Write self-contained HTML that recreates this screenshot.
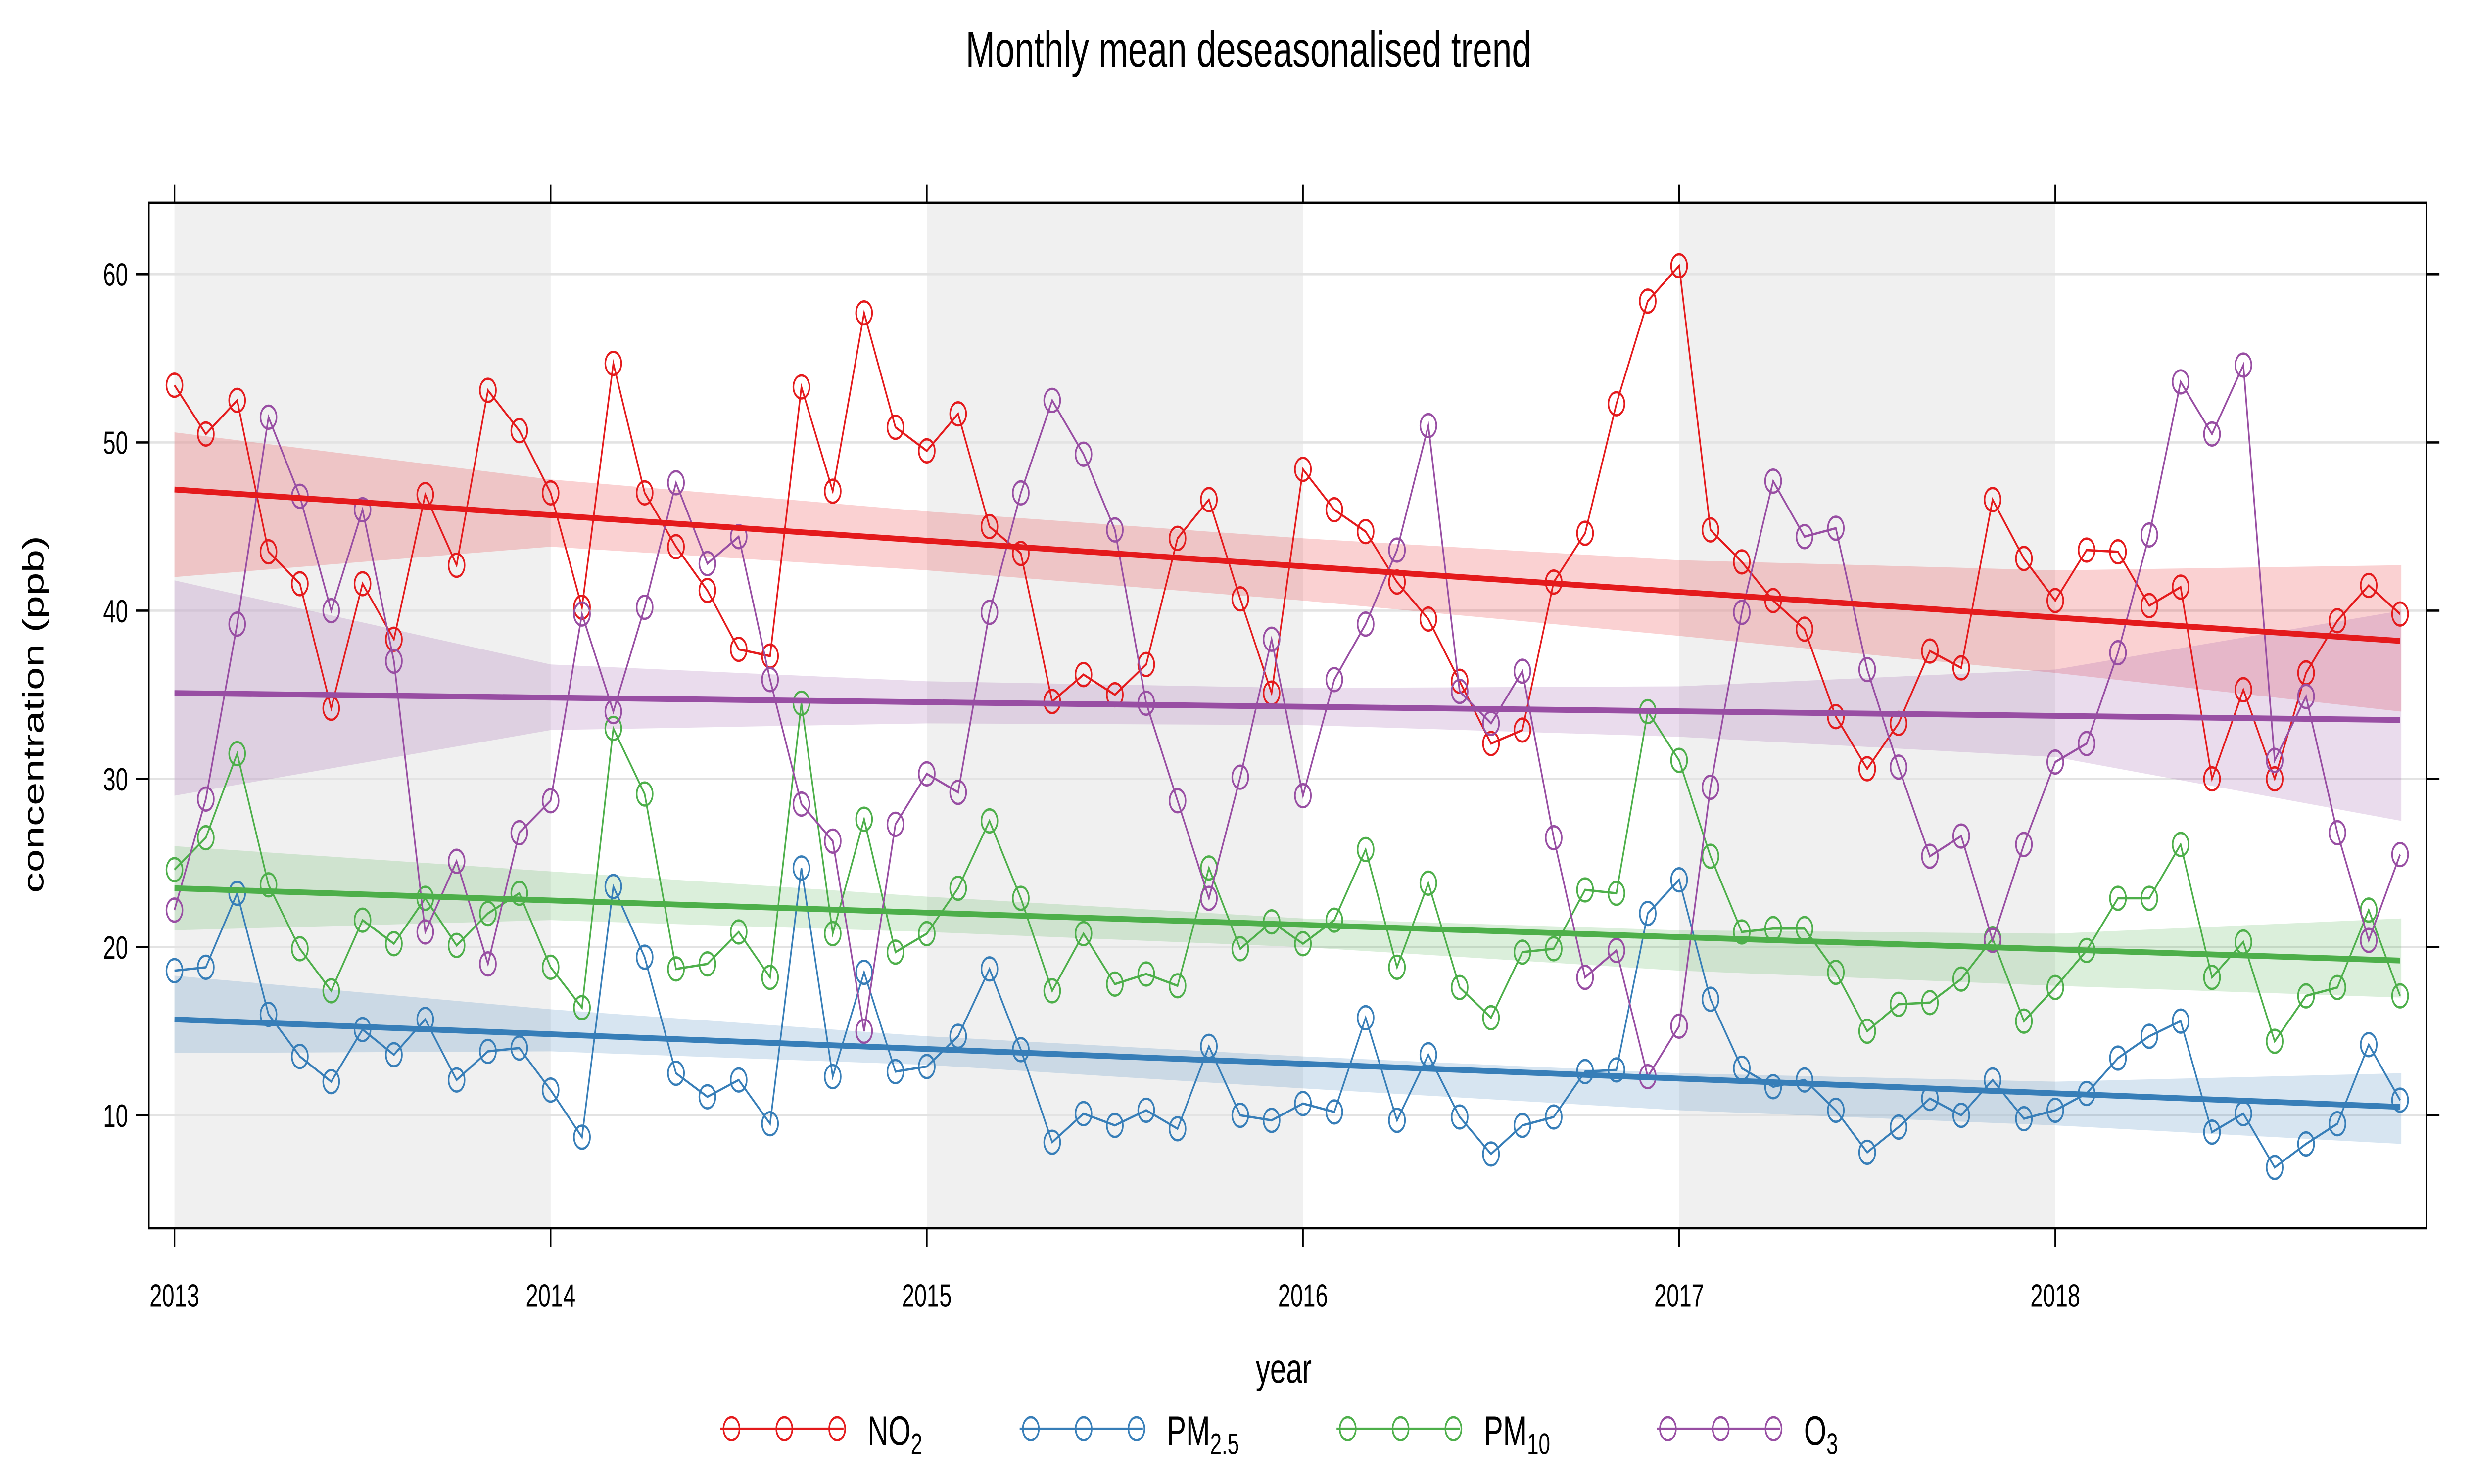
<!DOCTYPE html>
<html><head><meta charset="utf-8"><style>
html,body{margin:0;padding:0;background:#fff;width:100%;height:100%;overflow:hidden}
svg{display:block;width:100vw;height:100vh}
text{font-family:"Liberation Sans",Arial,sans-serif;fill:#000}
</style></head><body>
<svg id="chart" viewBox="0 0 1545.6 644" preserveAspectRatio="none" xmlns="http://www.w3.org/2000/svg">
<text x="780" y="29" text-anchor="middle" font-size="22">Monthly mean deseasonalised trend</text>
<g id="stripes"></g>
<g id="grid"></g>
<g id="bands"></g>
<g id="series"></g>
<g id="trends"></g>
<rect x="93" y="88" width="1423" height="445" fill="none" stroke="#000" stroke-width="1"/>
<g id="axes"></g>
<text transform="translate(27,310) rotate(-90)" text-anchor="middle" font-size="18">concentration (ppb)</text>
<text x="802" y="600" text-anchor="middle" font-size="18">year</text>
<g id="legend"></g>
</svg>
<script>
const months = 72;
const no2 = [53.4,50.5,52.5,43.5,41.6,34.2,41.6,38.3,46.9,42.7,53.1,50.7,47.0,40.2,54.7,47.0,43.8,41.2,37.7,37.3,53.3,47.1,57.7,50.9,49.5,51.7,45.0,43.4,34.6,36.2,35.0,36.8,44.3,46.6,40.7,35.1,48.4,46.0,44.7,41.7,39.5,35.8,32.1,32.9,41.7,44.6,52.3,58.4,60.5,44.8,42.9,40.6,38.9,33.7,30.6,33.3,37.6,36.6,46.6,43.1,40.6,43.6,43.5,40.3,41.4,30.0,35.3,30.0,36.3,39.4,41.5,39.8];
const pm25 = [18.6,18.8,23.2,16.0,13.5,12.0,15.1,13.6,15.7,12.1,13.8,14.0,11.5,8.7,23.6,19.4,12.5,11.1,12.1,9.5,24.7,12.3,18.5,12.6,12.9,14.7,18.7,13.9,8.4,10.1,9.4,10.3,9.2,14.1,10.0,9.7,10.7,10.2,15.8,9.7,13.6,9.9,7.7,9.4,9.9,12.6,12.7,22.0,24.0,16.9,12.8,11.7,12.1,10.3,7.8,9.3,11.0,10.0,12.1,9.8,10.3,11.3,13.4,14.7,15.6,9.0,10.1,6.9,8.3,9.5,14.2,10.9];
const pm10 = [24.6,26.5,31.5,23.7,19.9,17.4,21.6,20.2,22.9,20.1,22.0,23.2,18.8,16.4,33.0,29.1,18.7,19.0,20.9,18.2,34.5,20.8,27.6,19.7,20.8,23.5,27.5,22.9,17.4,20.8,17.8,18.4,17.7,24.7,19.9,21.5,20.2,21.6,25.8,18.8,23.8,17.6,15.8,19.7,19.9,23.4,23.2,34.0,31.1,25.4,20.9,21.1,21.1,18.5,15.0,16.6,16.7,18.1,20.5,15.6,17.6,19.8,22.9,22.9,26.1,18.2,20.3,14.4,17.1,17.6,22.2,17.1];
const o3 = [22.2,28.8,39.2,51.5,46.8,40.0,46.0,37.0,20.9,25.1,19.0,26.8,28.7,39.8,34.0,40.2,47.6,42.8,44.4,35.9,28.5,26.3,15.0,27.3,30.3,29.2,39.9,47.0,52.5,49.3,44.8,34.5,28.7,22.9,30.1,38.3,29.0,35.9,39.2,43.6,51.0,35.2,33.3,36.4,26.5,18.2,19.8,12.3,15.3,29.5,39.9,47.7,44.4,44.9,36.5,30.7,25.4,26.6,20.4,26.1,31.0,32.1,37.5,44.5,53.6,50.5,54.6,31.1,34.9,26.8,20.4,25.5];
const trendStart = [47.2,15.7,23.5,35.1];
const trendEnd = [38.2,10.5,19.2,33.5];
const bandT = [0,1,2,3,4,5,5.92];
const bandHiNO2 = [50.6,47.8,45.9,44.3,43.0,42.4,42.7];
const bandLoNO2 = [42.0,43.8,42.4,40.6,38.5,36.3,34.0];
const bandHiPM25 = [18.3,16.3,14.7,13.5,12.5,12.0,12.5];
const bandLoPM25 = [13.7,13.8,13.0,11.6,10.3,9.4,8.3];
const bandHiPM10 = [26.0,24.5,23.0,21.7,21.0,20.8,21.7];
const bandLoPM10 = [21.0,21.6,20.9,20.0,18.6,17.7,17.0];
const bandHiO3 = [41.8,36.8,35.8,35.4,35.5,36.5,40.0];
const bandLoO3 = [29.0,32.9,33.3,33.2,32.5,31.3,27.5];
const yTicks = [10,20,30,40,50,60];
const xTicks = [2013,2014,2015,2016,2017,2018];

const NS="http://www.w3.org/2000/svg";
const X = t => 109 + t*235;
const Y = v => 484 - (v-10)*7.3;
function el(tag, attrs, parent){const e=document.createElementNS(NS,tag);for(const k in attrs)e.setAttribute(k,attrs[k]);parent.appendChild(e);return e;}
const colors=["#e41a1c","#377eb8","#4daf4a","#984ea3"];
const stripes=document.getElementById('stripes');
[0,2,4].forEach(i=>{
  const r=el('rect',{x:X(i),y:88,width:235,height:445,fill:'#f0f0f0'},stripes);
  
  
});
const grid=document.getElementById('grid'), axes=document.getElementById('axes');
yTicks.forEach(v=>{
  const g=el('line',{x1:93,x2:1516,y1:Y(v),y2:Y(v),stroke:'#e3e3e3','stroke-width':1},grid);
  
  
  el('line',{x1:85,x2:93,y1:Y(v),y2:Y(v),stroke:'#000'},axes);
  el('line',{x1:1516,x2:1524,y1:Y(v),y2:Y(v),stroke:'#000'},axes);
  const t=el('text',{x:80,y:Y(v)+5,'text-anchor':'end','font-size':14},axes);
  t.textContent=v;
  
  
});
xTicks.forEach(yr=>{
  const x=X(yr-2013);
  el('line',{x1:x,x2:x,y1:80,y2:88,stroke:'#000'},axes);
  el('line',{x1:x,x2:x,y1:533,y2:541,stroke:'#000'},axes);
  const t=el('text',{x:x,y:567,'text-anchor':'middle','font-size':14},axes);
  t.textContent=yr;
  
  
});
const bands=document.getElementById('bands');
[[bandHiNO2,bandLoNO2],[bandHiPM25,bandLoPM25],[bandHiPM10,bandLoPM10],[bandHiO3,bandLoO3]].forEach((b,i)=>{
  let pts=bandT.map((t,j)=>X(t)+','+Y(b[0][j]));
  pts=pts.concat(bandT.map((t,j)=>X(t)+','+Y(b[1][j])).reverse());
  const p=el('polygon',{points:pts.join(' '),fill:colors[i],'fill-opacity':0.2,stroke:'none'},bands);
  
  
});
const series=document.getElementById('series');
[no2,pm25,pm10,o3].forEach((d,i)=>{
  const g=el('g',{},series);
  
  
  el('polyline',{points:d.map((v,k)=>X(k/12)+','+Y(v)).join(' '),fill:'none',stroke:colors[i],'stroke-width':1},g);
  d.forEach((v,k)=>{
    const c=el('circle',{cx:X(k/12),cy:Y(v),r:5,fill:'none',stroke:colors[i],'stroke-width':1},g);
    
    
  });
});
const trends=document.getElementById('trends');
trendStart.forEach((s,i)=>{
  const l=el('line',{x1:X(0),x2:X(71/12),y1:Y(s),y2:Y(trendEnd[i]),stroke:colors[i],'stroke-width':2.5},trends);
  
  
});
const legend=document.getElementById('legend');
const lx=[450,637,835,1035], labels=[["NO","2"],["PM","2.5"],["PM","10"],["O","3"]];
lx.forEach((x,i)=>{
  const g=el('g',{},legend);
  
  
  el('line',{x1:x,x2:x+77,y1:620,y2:620,stroke:colors[i],'stroke-width':1},g);
  [7,40,73].forEach(o=>el('circle',{cx:x+o,cy:620,r:5,fill:'none',stroke:colors[i]},g));
  const t=el('text',{x:x+92,y:627,'font-size':18},g);
  t.textContent=labels[i][0];
  const s=el('tspan',{'font-size':13,dy:4},t);
  s.textContent=labels[i][1];
});
</script>
</body></html>
